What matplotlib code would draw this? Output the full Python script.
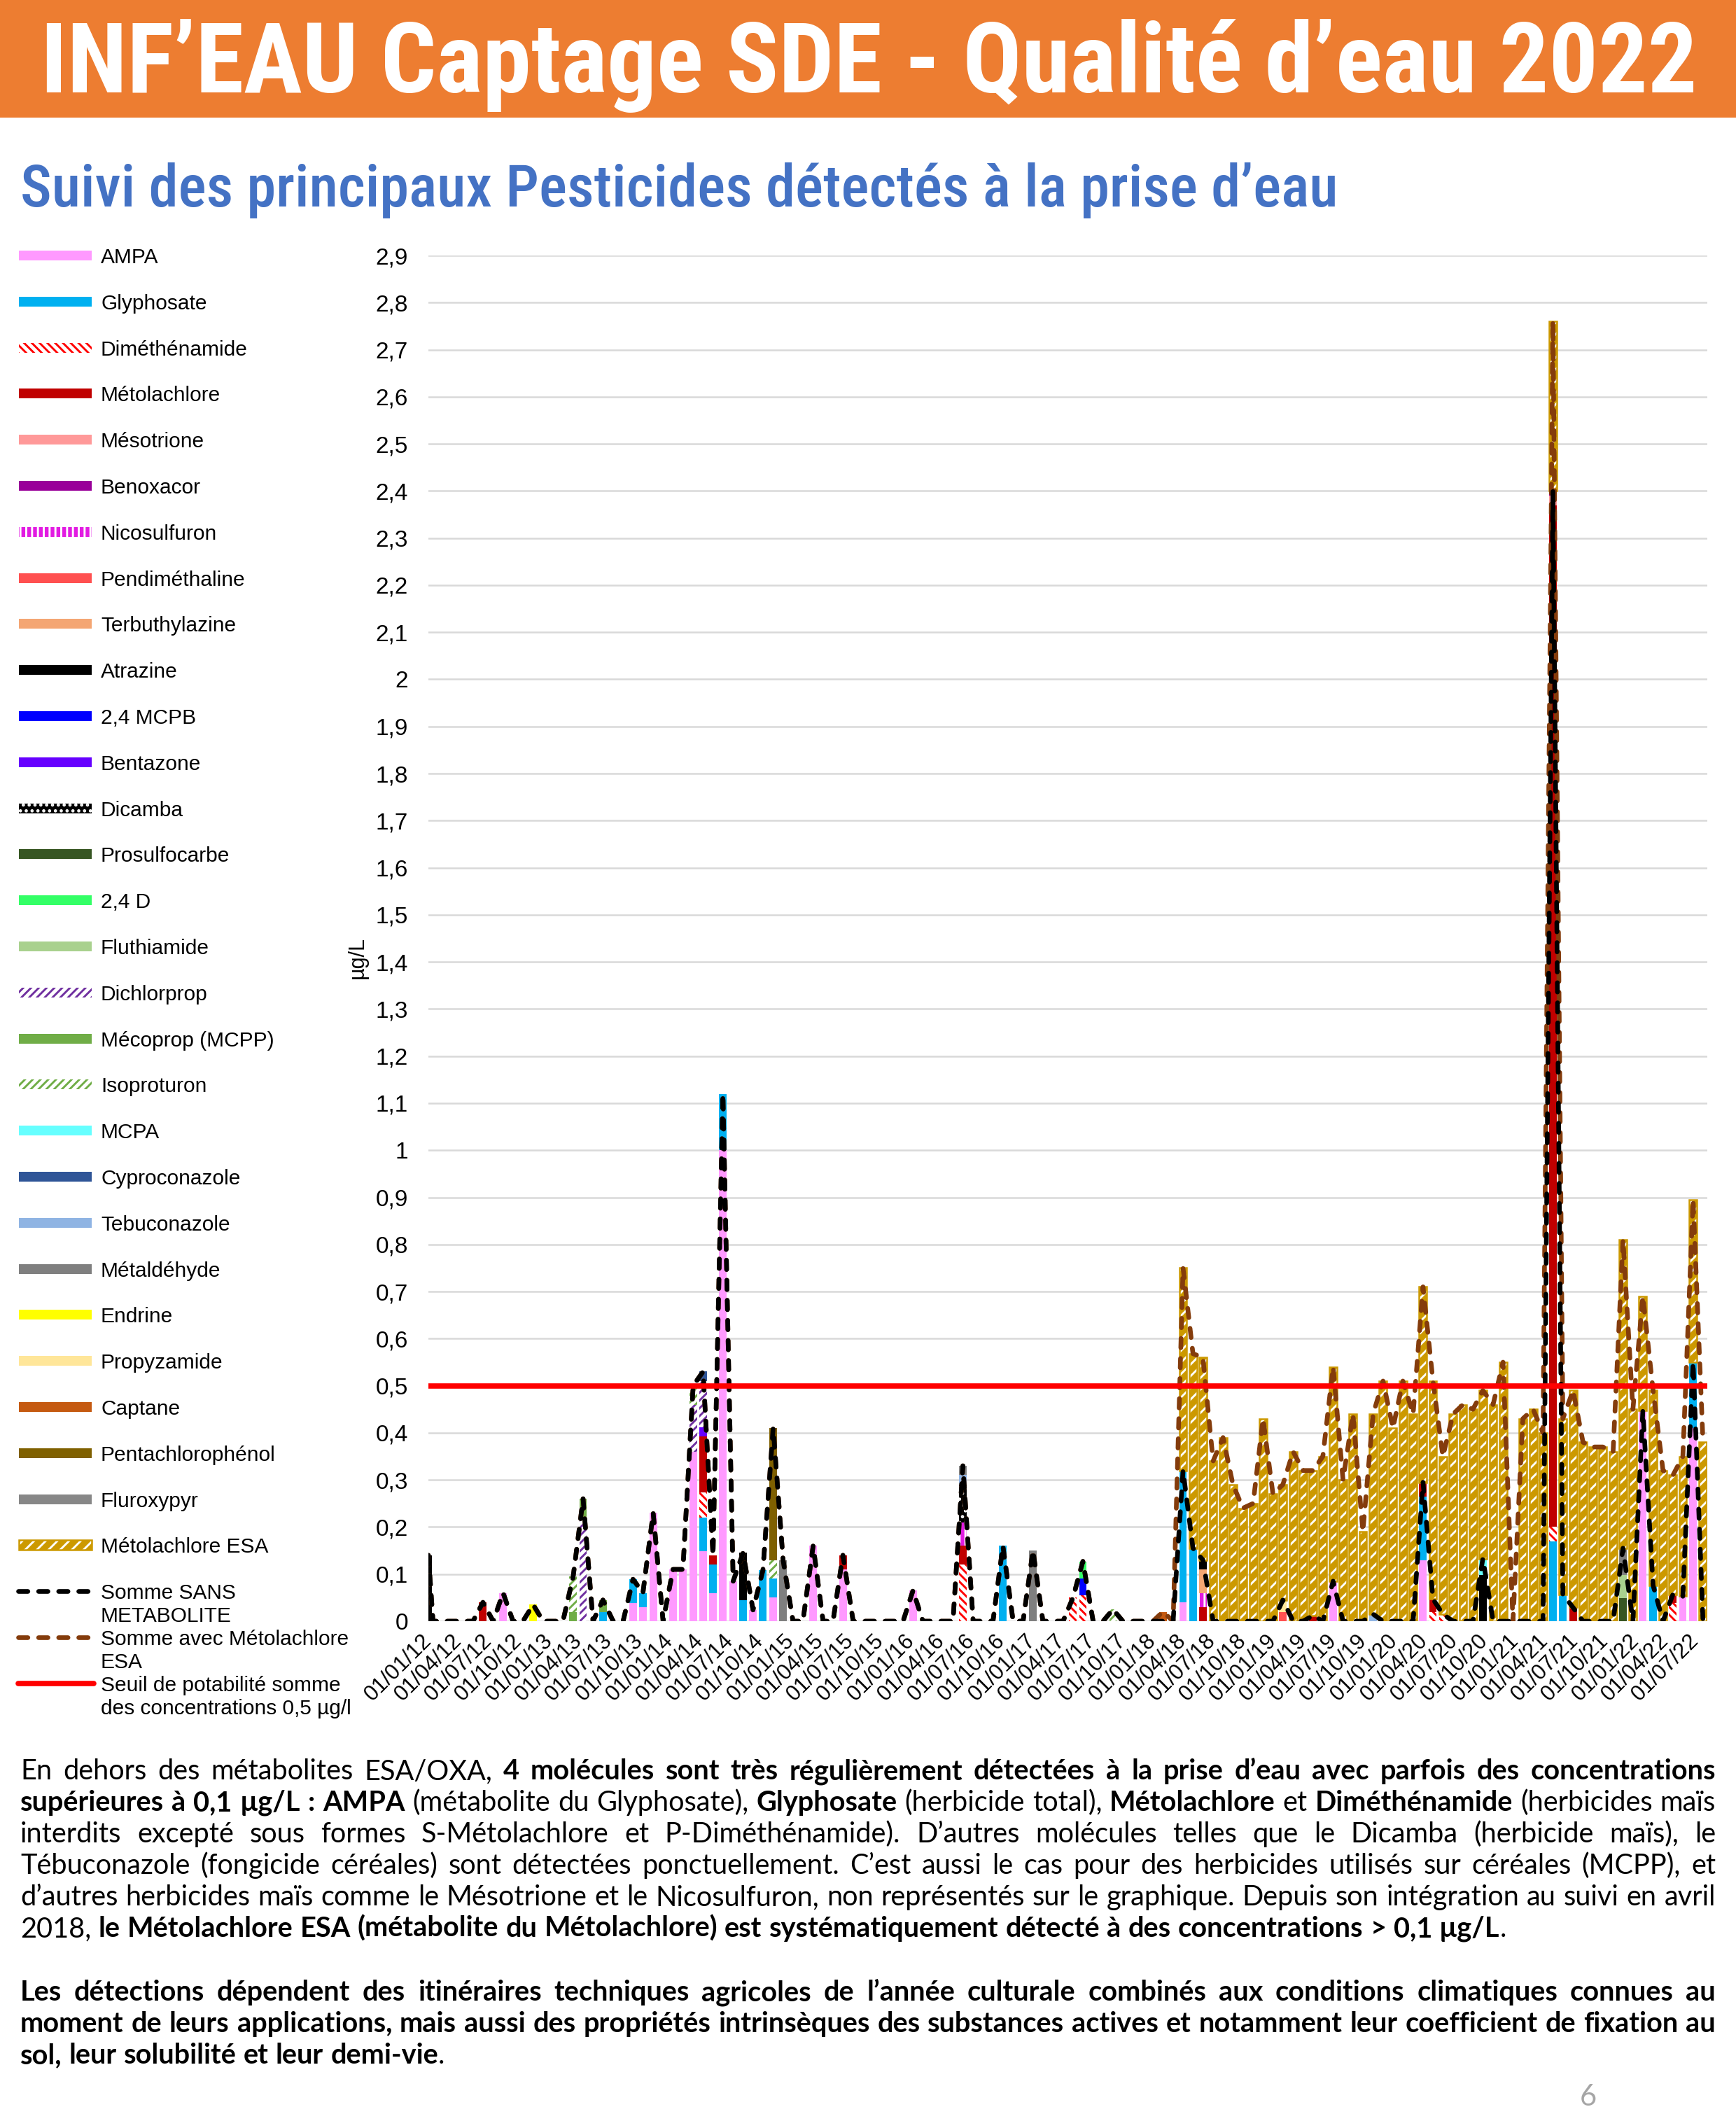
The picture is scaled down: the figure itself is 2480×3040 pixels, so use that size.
import matplotlib
matplotlib.use("Agg")
import matplotlib.pyplot as plt
import matplotlib.dates as mdates
from matplotlib.patches import Rectangle
from matplotlib.lines import Line2D
from matplotlib.font_manager import FontProperties
from matplotlib.ticker import MultipleLocator, FuncFormatter
import numpy as np
import pandas as pd

plt.rcParams['hatch.linewidth'] = 2.1

# ------------------------------------------------------------------ DATA
sample_dates = [
    "2012-01-01", "2012-01-15", "2012-02-14", "2012-03-15", "2012-04-15", "2012-05-15", "2012-06-14",
    "2012-07-15", "2012-08-14", "2012-09-13", "2012-10-13", "2012-11-13", "2012-12-13",
    "2013-01-12", "2013-02-11", "2013-03-14", "2013-04-13", "2013-05-13", "2013-06-12",
    "2013-07-13", "2013-08-12", "2013-09-11", "2013-10-11", "2013-11-11", "2013-12-11",
    "2014-01-10", "2014-02-09", "2014-03-12", "2014-04-11", "2014-05-11", "2014-06-10",
    "2014-07-11", "2014-08-10", "2014-09-09", "2014-10-09", "2014-11-09", "2014-12-09",
    "2015-01-08", "2015-02-07", "2015-03-10", "2015-04-09", "2015-05-09", "2015-06-08",
    "2015-07-09", "2015-08-08", "2015-09-07", "2015-10-07", "2015-11-07", "2015-12-07",
    "2016-01-06", "2016-02-05", "2016-03-07", "2016-04-06", "2016-05-06", "2016-06-05",
    "2016-07-06", "2016-08-05", "2016-09-04", "2016-10-04", "2016-11-04", "2016-12-04",
    "2017-01-03", "2017-02-02", "2017-03-05", "2017-04-04", "2017-05-04", "2017-06-03",
    "2017-07-04", "2017-08-03", "2017-09-02", "2017-10-02", "2017-11-02", "2017-12-02",
    "2018-01-01", "2018-01-31", "2018-03-03", "2018-04-02", "2018-05-02", "2018-06-01", "2018-07-02",
    "2018-08-01", "2018-08-31", "2018-09-30", "2018-10-31", "2018-11-30", "2018-12-30",
    "2019-01-29", "2019-03-01", "2019-03-31", "2019-04-30", "2019-05-30", "2019-06-30",
    "2019-07-30", "2019-08-29", "2019-09-28", "2019-10-29", "2019-11-28", "2019-12-28",
    "2020-01-27", "2020-02-27", "2020-03-28", "2020-04-27", "2020-05-27", "2020-06-27",
    "2020-07-27", "2020-08-26", "2020-09-25", "2020-10-26", "2020-11-25", "2020-12-25",
    "2021-01-24", "2021-02-24", "2021-03-26", "2021-04-25", "2021-05-25", "2021-06-25",
    "2021-07-25", "2021-08-24", "2021-09-23", "2021-10-24", "2021-11-23", "2021-12-23",
    "2022-01-22", "2022-02-22", "2022-03-24", "2022-04-23", "2022-05-23", "2022-06-23", "2022-07-23",
]

series_names = ["AMPA", "Glyphosate", "Diméthénamide", "Métolachlore", "Mésotrione", "Benoxacor",
                "Nicosulfuron", "Pendiméthaline", "Terbuthylazine", "Atrazine", "2,4 MCPB", "Bentazone",
                "Dicamba", "Prosulfocarbe", "2,4 D", "Fluthiamide", "Dichlorprop", "Mécoprop (MCPP)",
                "Isoproturon", "MCPA", "Cyproconazole", "Tebuconazole", "Métaldéhyde", "Endrine",
                "Propyzamide", "Captane", "Pentachlorophénol", "Fluroxypyr", "Métolachlore ESA"]

ampa = {"2012-08-14": 0.06, "2013-09-11": 0.038, "2013-10-11": 0.03, "2013-11-11": 0.23,
        "2014-01-10": 0.11, "2014-02-09": 0.11, "2014-03-12": 0.36, "2014-04-11": 0.148,
        "2014-05-11": 0.059, "2014-06-10": 1.0, "2014-07-11": 0.085, "2014-09-09": 0.024,
        "2014-11-09": 0.05, "2015-03-10": 0.16, "2015-06-08": 0.11, "2016-01-06": 0.065,
        "2018-04-02": 0.04, "2019-06-30": 0.085, "2020-03-28": 0.13, "2022-01-22": 0.447,
        "2022-05-23": 0.053, "2022-06-23": 0.41}
glyphosate = {"2013-06-12": 0.02, "2013-09-11": 0.051, "2013-10-11": 0.03, "2014-04-11": 0.072,
              "2014-05-11": 0.062, "2014-06-10": 0.12, "2014-08-10": 0.045, "2014-10-09": 0.108,
              "2014-11-09": 0.041, "2016-10-04": 0.16, "2018-04-02": 0.28, "2018-05-02": 0.155,
              "2020-03-28": 0.135, "2021-04-25": 0.17, "2021-05-25": 0.057, "2022-02-22": 0.076,
              "2022-06-23": 0.14}
dimethenamide = {"2014-04-11": 0.053, "2016-06-05": 0.12, "2017-05-04": 0.05, "2017-06-03": 0.055,
                 "2020-04-27": 0.02, "2020-05-27": 0.015, "2021-04-25": 0.03, "2022-04-23": 0.038}
metolachlore = {"2012-06-14": 0.04, "2014-04-11": 0.119, "2014-05-11": 0.019, "2015-06-08": 0.03,
                "2016-06-05": 0.04, "2018-06-01": 0.03, "2019-04-30": 0.012, "2020-03-28": 0.03,
                "2020-04-27": 0.027, "2021-04-25": 2.17, "2021-06-25": 0.029, "2022-04-23": 0.019}
mesotrione = {"2021-04-25": 0.02}
benoxacor = {"2021-04-25": 0.01}
nicosulfuron = {"2016-06-05": 0.05, "2018-06-01": 0.03}
pendimethaline = {"2019-01-29": 0.02}
terbuthylazine = {"2018-06-01": 0.05}
atrazine = {"2012-01-01": 0.14, "2014-08-10": 0.10, "2018-06-01": 0.02, "2020-09-25": 0.098}
mcpb = {"2017-06-03": 0.035}
bentazone = {"2014-04-11": 0.019}
dicamba = {"2016-06-05": 0.08}
prosulfocarbe = {"2021-11-23": 0.049}
d24 = {"2017-06-03": 0.037}
fluthiamide = {"2021-11-23": 0.049}
dichlorprop = {"2013-04-13": 0.215, "2014-03-12": 0.10, "2014-04-11": 0.099}
mecoprop = {"2013-03-14": 0.02, "2013-04-13": 0.045, "2013-06-12": 0.025}
isoproturon = {"2013-03-14": 0.075, "2014-03-12": 0.04, "2014-11-09": 0.039, "2017-09-02": 0.025}
mcpa = {"2020-09-25": 0.035}
cyproconazole = {"2014-04-11": 0.02}
tebuconazole = {"2016-06-05": 0.02, "2019-10-29": 0.015}
metaldehyde = {"2014-12-09": 0.13, "2017-01-03": 0.15, "2021-11-23": 0.057}
endrine = {"2012-11-13": 0.035}
propyzamide = {"2019-01-29": 0.025}
captane = {"2018-01-31": 0.02}
pentachlorophenol = {"2014-11-09": 0.28}
fluroxypyr = {"2016-06-05": 0.02}

# Métolachlore ESA, one value per sample from April 2018 on
esa_first_date = "2018-04-02"
esa_values = [0.43, 0.413, 0.43, 0.34, 0.39, 0.29, 0.24, 0.25, 0.43, 0.27,
              0.245, 0.36, 0.32, 0.308, 0.35, 0.455, 0.30, 0.44, 0.19, 0.425,
              0.51, 0.41, 0.51, 0.44, 0.415, 0.463, 0.335, 0.44, 0.46, 0.45,
              0.357, 0.46, 0.55, 0.0, 0.43, 0.45, 0.40, 0.36, 0.373, 0.461,
              0.38, 0.37, 0.37, 0.36, 0.655, 0.45, 0.243, 0.414, 0.32, 0.253,
              0.297, 0.345, 0.38]

threshold = 0.5
not_in_sum_sans = ["Métolachlore ESA", "Captane"]

line_labels = ["Somme SANS\nMETABOLITE", "Somme avec Métolachlore\nESA",
               "Seuil de potabilité somme\ndes concentrations 0,5 µg/l"]

series_values = {"AMPA": ampa, "Glyphosate": glyphosate, "Diméthénamide": dimethenamide,
                 "Métolachlore": metolachlore, "Mésotrione": mesotrione, "Benoxacor": benoxacor,
                 "Nicosulfuron": nicosulfuron, "Pendiméthaline": pendimethaline,
                 "Terbuthylazine": terbuthylazine, "Atrazine": atrazine, "2,4 MCPB": mcpb,
                 "Bentazone": bentazone, "Dicamba": dicamba, "Prosulfocarbe": prosulfocarbe,
                 "2,4 D": d24, "Fluthiamide": fluthiamide, "Dichlorprop": dichlorprop,
                 "Mécoprop (MCPP)": mecoprop, "Isoproturon": isoproturon, "MCPA": mcpa,
                 "Cyproconazole": cyproconazole, "Tebuconazole": tebuconazole,
                 "Métaldéhyde": metaldehyde, "Endrine": endrine, "Propyzamide": propyzamide,
                 "Captane": captane, "Pentachlorophénol": pentachlorophenol, "Fluroxypyr": fluroxypyr}

# ------------------------------------------------------------------ STYLES
styles = {
    "AMPA": dict(fc="#FF99FF"),
    "Glyphosate": dict(fc="#00B0F0"),
    "Diméthénamide": dict(fc="white", hc="#FF0000", hatch="\\\\\\"),
    "Métolachlore": dict(fc="#C00000"),
    "Mésotrione": dict(fc="#FF9999"),
    "Benoxacor": dict(fc="#990099"),
    "Nicosulfuron": dict(fc="#E21BE2", hc="white", hatch="||"),
    "Pendiméthaline": dict(fc="#FF5050"),
    "Terbuthylazine": dict(fc="#F4A673"),
    "Atrazine": dict(fc="#000000"),
    "2,4 MCPB": dict(fc="#0000FF"),
    "Bentazone": dict(fc="#6600FF"),
    "Dicamba": dict(fc="#000000", hc="white", hatch=".."),
    "Prosulfocarbe": dict(fc="#375623"),
    "2,4 D": dict(fc="#33FF66"),
    "Fluthiamide": dict(fc="#A9D18E"),
    "Dichlorprop": dict(fc="white", hc="#7030A0", hatch="///"),
    "Mécoprop (MCPP)": dict(fc="#70AD47"),
    "Isoproturon": dict(fc="white", hc="#70AD47", hatch="///"),
    "MCPA": dict(fc="#66FFFF"),
    "Cyproconazole": dict(fc="#2F5597"),
    "Tebuconazole": dict(fc="#8FB4E3"),
    "Métaldéhyde": dict(fc="#7F7F7F"),
    "Endrine": dict(fc="#FFFF00"),
    "Propyzamide": dict(fc="#FFE699"),
    "Captane": dict(fc="#C55A11"),
    "Pentachlorophénol": dict(fc="#7F6000"),
    "Fluroxypyr": dict(fc="#878787"),
    "Métolachlore ESA": dict(fc="#CC9900", hc="white", hatch="//", outline="#CC9900"),
}
SANS_COLOR, AVEC_COLOR, SEUIL_COLOR = "#000000", "#843C0C", "#FF0000"
LINE_LW = 4.8
DASH = (0, (2.0, 2.3))
BAR_WIDTH_DAYS = 23

# ------------------------------------------------------------------ TABLE
df = pd.DataFrame(0.0, index=sample_dates, columns=series_names)
for name, vals in series_values.items():
    for d, v in vals.items():
        df.loc[d, name] = v
i0 = sample_dates.index(esa_first_date)
for k, v in enumerate(esa_values):
    df.iloc[i0 + k, series_names.index("Métolachlore ESA")] = v

sum_sans = df[[c for c in series_names if c not in not_in_sum_sans]].sum(axis=1).values
sum_avec = df.sum(axis=1).values
x = mdates.date2num(pd.to_datetime(sample_dates))

# ------------------------------------------------------------------ FIGURE
W, H, DPI = 2480, 3040, 100
fig = plt.figure(figsize=(W / DPI, H / DPI), dpi=DPI)
fig.patch.set_facecolor("white")
ov = fig.add_axes([0, 0, 1, 1])
ov.set_xlim(0, W)
ov.set_ylim(H, 0)
ov.axis("off")
renderer = fig.canvas.get_renderer()


def tw(s, fp):
    return renderer.get_text_width_height_descent(s, fp, ismath=False)[0]


# banner + titles
ov.add_patch(Rectangle((0, 0), W, 168, fc="#ED7D31", ec="none", zorder=0))
title = "INF’EAU Captage SDE - Qualité d’eau 2022"
tfam = ["Roboto Condensed", "Liberation Sans Narrow", "Lato"]
fp = FontProperties(family=tfam, weight="bold", size=100)
ts = 100 * 2366 / tw(title, fp)
ov.text(58, 132, title, fontproperties=FontProperties(family=tfam, weight="bold", size=ts),
        color="white", ha="left", va="baseline")

subtitle = "Suivi des principaux Pesticides détectés à la prise d’eau"
fp = FontProperties(family=tfam, weight="medium", size=100)
ss = 100 * 1881 / tw(subtitle, fp)
ov.text(29, 295, subtitle, fontproperties=FontProperties(family=tfam, weight="medium", size=ss),
        color="#4472C4", ha="left", va="baseline")

# ------------------------------------------------------------------ CHART
ax = fig.add_axes([612 / W, 1 - 2316 / H, (2439 - 612) / W, (2316 - 365) / H])
ax.set_facecolor("none")
bottom = np.zeros(len(x))
for name in series_names:
    h = df[name].values
    m = h > 0
    st = styles[name]
    ax.bar(x[m], h[m], width=BAR_WIDTH_DAYS, bottom=bottom[m], color=st["fc"],
           edgecolor=st.get("hc", "none"), hatch=st.get("hatch"), linewidth=0, zorder=2)
    if "outline" in st:
        ax.bar(x[m], h[m], width=BAR_WIDTH_DAYS, bottom=bottom[m], fill=False,
               edgecolor=st["outline"], linewidth=1.8, zorder=2.1)
    bottom = bottom + h

ax.plot(x, sum_avec, color=AVEC_COLOR, lw=LINE_LW, linestyle=DASH, dash_capstyle="round",
        dash_joinstyle="round", zorder=3)
ax.plot(x, sum_sans, color=SANS_COLOR, lw=LINE_LW, linestyle=DASH, dash_capstyle="round",
        dash_joinstyle="round", zorder=4)
ax.axhline(threshold, color=SEUIL_COLOR, lw=5.5, zorder=5)

ax.set_ylim(0, 2.9)
ax.set_xlim(mdates.date2num(pd.Timestamp("2012-01-01")), mdates.date2num(pd.Timestamp("2022-08-05")))
ax.yaxis.set_major_locator(MultipleLocator(0.1))
ax.yaxis.set_major_formatter(FuncFormatter(lambda v, p: ("%g" % round(v, 1)).replace(".", ",")))
ax.xaxis.set_major_locator(mdates.MonthLocator(bymonth=[1, 4, 7, 10]))
ax.xaxis.set_major_formatter(mdates.DateFormatter("%d/%m/%y"))
ax.grid(axis="y", color="#D9D9D9", lw=1.8)
ax.set_axisbelow(True)
for s in ax.spines.values():
    s.set_visible(False)
ax.tick_params(axis="both", length=0)
ax.tick_params(axis="y", pad=21, labelsize=24)
ax.tick_params(axis="x", pad=17, labelsize=22.5)
for lab in ax.get_yticklabels():
    lab.set_fontfamily("Liberation Sans")
plt.setp(ax.get_xticklabels(), rotation=45, ha="right", va="center", rotation_mode="anchor",
         fontfamily="Liberation Sans")

ov.text(511, 1368, "µg/L", rotation=90, fontsize=22, family="Liberation Sans",
        ha="center", va="center")

# ------------------------------------------------------------------ LEGEND
lfp = FontProperties(family="Liberation Sans", size=21.5)
row0, dy = 365, 65.8
for j, name in enumerate(series_names):
    y = row0 + dy * j
    st = styles[name]
    ov.add_patch(Rectangle((27, y - 7), 104, 14, fc=st["fc"], ec=st.get("hc", "none"),
                           hatch=st.get("hatch"), lw=0))
    if "outline" in st:
        ov.add_patch(Rectangle((27, y - 7), 104, 14, fill=False, ec=st["outline"], lw=1.8))
    ov.text(144, y, name, fontproperties=lfp, ha="left", va="center_baseline")

line_styles = [dict(color=SANS_COLOR, lw=LINE_LW, linestyle=DASH, dash_capstyle="round"),
               dict(color=AVEC_COLOR, lw=LINE_LW, linestyle=DASH, dash_capstyle="round"),
               dict(color=SEUIL_COLOR, lw=5.5, solid_capstyle="round")]
for k, (lab, ls) in enumerate(zip(line_labels, line_styles)):
    y = row0 + dy * (len(series_names) + k)
    ov.add_line(Line2D([26, 134], [y, y], **ls))
    for n, part in enumerate(lab.split("\n")):
        ov.text(144, y + 33 * n, part, fontproperties=lfp, ha="left", va="center_baseline")

# ------------------------------------------------------------------ BODY TEXT
para1 = [
    [("En dehors des métabolites ESA/OXA, ", False),
     ("4 molécules sont très régulièrement détectées à la prise d’eau avec parfois des concentrations", True)],
    [("supérieures à 0,1 µg/L : AMPA", True), (" (métabolite du Glyphosate), ", False), ("Glyphosate", True),
     (" (herbicide total), ", False), ("Métolachlore", True), (" et ", False), ("Diméthénamide", True),
     (" (herbicides maïs", False)],
    [("interdits excepté sous formes S-Métolachlore et P-Diméthénamide). D’autres molécules telles que le Dicamba (herbicide maïs), le", False)],
    [("Tébuconazole (fongicide céréales) sont détectées ponctuellement. C’est aussi le cas pour des herbicides utilisés sur céréales (MCPP), et", False)],
    [("d’autres herbicides maïs comme le Mésotrione et le Nicosulfuron, non représentés sur le graphique. Depuis son intégration au suivi en avril", False)],
    [("2018, ", False),
     ("le Métolachlore ESA (métabolite du Métolachlore) est systématiquement détecté à des concentrations > 0,1 µg/L", True),
     (".", False)],
]
para2 = [
    [("Les détections dépendent des itinéraires techniques agricoles de l’année culturale combinés aux conditions climatiques connues au", True)],
    [("moment de leurs applications, mais aussi des propriétés intrinsèques des substances actives et notamment leur coefficient de fixation au", True)],
    [("sol, leur solubilité et leur demi-vie", True), (".", False)],
]
lines = para1 + para2
last_flags = [False] * 5 + [True] + [False, False, True]
baselines = [2542, 2587, 2632, 2677, 2722, 2767, 2858, 2903, 2948]
X0, X1 = 29, 2451
BODY_FAM = "Lato"


def words_of(runs):
    words, cur = [], []
    for text, bold in runs:
        parts = text.split(" ")
        for pi, p in enumerate(parts):
            if pi > 0 and cur:
                words.append(cur)
                cur = []
            if p:
                cur.append((p, bold))
    if cur:
        words.append(cur)
    return words


def measure(size):
    fr = FontProperties(family=BODY_FAM, weight="normal", size=size)
    fb = FontProperties(family=BODY_FAM, weight="bold", size=size)
    sp = tw("a a", fr) - tw("aa", fr)
    return fr, fb, sp


size = 31.0
fr, fb, sp = measure(size)
mx = 0
for runs, last in zip(lines, last_flags):
    ws = words_of(runs)
    tot = sum(tw(f, fb if b else fr) for w in ws for f, b in w) + sp * (len(ws) - 1)
    mx = max(mx, tot)
if mx > (X1 - X0):
    size = size * (X1 - X0) / mx * 0.995
fr, fb, sp = measure(size)

for runs, last, yb in zip(lines, last_flags, baselines):
    ws = words_of(runs)
    wwid = [sum(tw(f, fb if b else fr) for f, b in w) for w in ws]
    gap = sp if last else ((X1 - X0) - sum(wwid)) / (len(ws) - 1)
    xx = X0
    for w, wd in zip(ws, wwid):
        xp = xx
        for f, b in w:
            ov.text(xp, yb, f, fontproperties=fb if b else fr, ha="left", va="baseline", color="black")
            xp += tw(f, fb if b else fr)
        xx += wd + gap

ov.text(2269, 2996, "6", family=BODY_FAM, fontsize=30, color="#A6A6A6", ha="center", va="center")

fig.savefig("out.png", dpi=DPI, facecolor="white")
